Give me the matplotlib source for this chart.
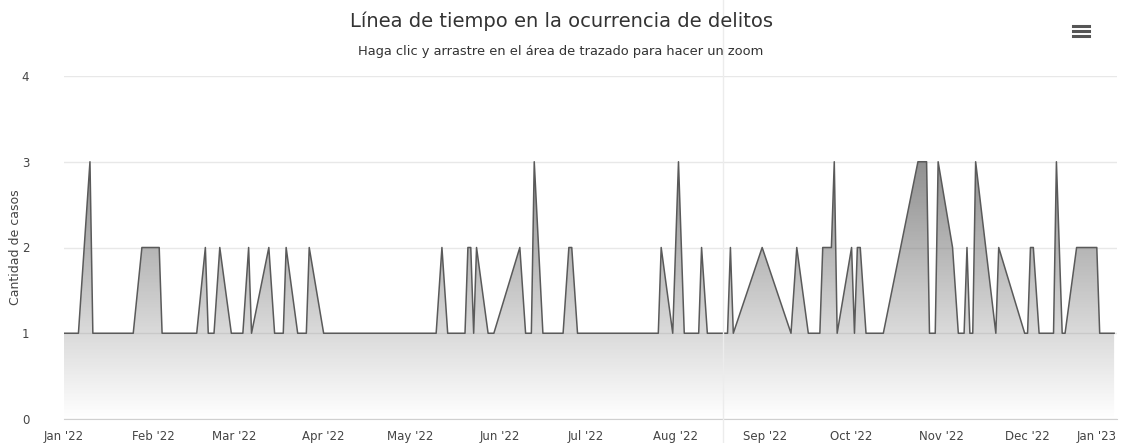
# Linea de tiempo de delitos - area chart estilo Highcharts
import numpy as np
import matplotlib
matplotlib.use('Agg')
import matplotlib.pyplot as plt
import matplotlib.dates as mdates
from matplotlib.lines import Line2D

# === Datos (fecha, cantidad de casos) ===
fechas = [
    "2022-01-01", "2022-01-06", "2022-01-10", "2022-01-11", "2022-01-25",
    "2022-01-28", "2022-02-03", "2022-02-04", "2022-02-16", "2022-02-19",
    "2022-02-20", "2022-02-22", "2022-02-24", "2022-02-28", "2022-03-04",
    "2022-03-06", "2022-03-07", "2022-03-13", "2022-03-15", "2022-03-18",
    "2022-03-19", "2022-03-23", "2022-03-26", "2022-03-27", "2022-04-01",
    "2022-05-10", "2022-05-12", "2022-05-14", "2022-05-20", "2022-05-21",
    "2022-05-22", "2022-05-23", "2022-05-24", "2022-05-28", "2022-05-30",
    "2022-06-08", "2022-06-10", "2022-06-12", "2022-06-13", "2022-06-16",
    "2022-06-23", "2022-06-25", "2022-06-26", "2022-06-28", "2022-07-26",
    "2022-07-27", "2022-07-31", "2022-08-02", "2022-08-04", "2022-08-09",
    "2022-08-10", "2022-08-12", "2022-08-19", "2022-08-20", "2022-08-21",
    "2022-08-31", "2022-09-10", "2022-09-12", "2022-09-16", "2022-09-20",
    "2022-09-21", "2022-09-24", "2022-09-25", "2022-09-26", "2022-10-01",
    "2022-10-02", "2022-10-03", "2022-10-04", "2022-10-06", "2022-10-12",
    "2022-10-24", "2022-10-27", "2022-10-28", "2022-10-30", "2022-10-31",
    "2022-11-05", "2022-11-07", "2022-11-09", "2022-11-10", "2022-11-11",
    "2022-11-12", "2022-11-13", "2022-11-20", "2022-11-21", "2022-11-30",
    "2022-12-01", "2022-12-02", "2022-12-03", "2022-12-05", "2022-12-10",
    "2022-12-11", "2022-12-13", "2022-12-14", "2022-12-18", "2022-12-25",
    "2022-12-26", "2022-12-31",
]
casos = [
    1, 1, 3, 1, 1,
    2, 2, 1, 1, 2,
    1, 1, 2, 1, 1,
    2, 1, 2, 1, 1,
    2, 1, 1, 2, 1,
    1, 2, 1, 1, 2,
    2, 1, 2, 1, 1,
    2, 1, 1, 3, 1,
    1, 2, 2, 1, 1,
    2, 1, 3, 1, 1,
    2, 1, 1, 2, 1,
    2, 1, 2, 1, 1,
    2, 2, 3, 1, 2,
    1, 2, 2, 1, 1,
    3, 3, 1, 1, 3,
    2, 1, 1, 2, 1,
    1, 3, 1, 2, 1,
    1, 2, 2, 1, 1,
    3, 1, 1, 2, 2,
    1, 1,
]

meses = ["2022-01-01", "2022-02-01", "2022-03-01", "2022-04-01", "2022-05-01",
         "2022-06-01", "2022-07-01", "2022-08-01", "2022-09-01", "2022-10-01",
         "2022-11-01", "2022-12-01", "2023-01-01"]
etiquetas_meses = ["Jan '22", "Feb '22", "Mar '22", "Apr '22", "May '22", "Jun '22",
                   "Jul '22", "Aug '22", "Sep '22", "Oct '22", "Nov '22", "Dec '22",
                   "Jan '23"]

titulo = "Línea de tiempo en la ocurrencia de delitos"
subtitulo = "Haga clic y arrastre en el área de trazado para hacer un zoom"

x = mdates.datestr2num(fechas)
y = np.array(casos, dtype=float)
xt = mdates.datestr2num(meses)

W, H = 1123, 443
fig = plt.figure(figsize=(W / 100, H / 100), dpi=100)
ax = fig.add_axes([64 / W, 1 - 419 / H, (1117 - 64) / W, (419 - 76) / H])

ax.set_xlim(xt[0], xt[-1])
ax.set_ylim(0, 4)

# area con degradado (oscuro arriba, transparente abajo)
poly = ax.fill_between(x, 0, y, color='none', lw=0)
grad = np.zeros((256, 1, 4))
grad[:, 0, :3] = 0.42
grad[:, 0, 3] = np.linspace(1.0, 0.0, 256)
img = ax.imshow(grad, extent=[xt[0], xt[-1], 0, 4], aspect='auto',
                origin='upper', zorder=1, interpolation='bilinear')
img.set_clip_path(poly.get_paths()[0], transform=ax.transData)
ax.plot(x, y, color='#5a5a5a', lw=1.1, zorder=3)

# grilla y ejes
ax.set_yticks([0, 1, 2, 3, 4])
ax.grid(axis='y', color='#e8e8e8', lw=1)
ax.set_axisbelow(True)
for s in ['top', 'right', 'left']:
    ax.spines[s].set_visible(False)
ax.spines['bottom'].set_color('#d0d0d0')
ax.tick_params(axis='both', length=0, labelsize=8.5, colors='#444444')
ax.tick_params(axis='y', pad=25)
ax.tick_params(axis='x', pad=8)
ax.set_xticks(xt)
ax.set_xticklabels(etiquetas_meses)
ax.get_xticklabels()[-1].set_horizontalalignment('right')
ax.set_ylabel("Cantidad de casos", fontsize=9, color='#444444')
ax.yaxis.set_label_coords(-0.040, 0.5)

fig.text(561 / W, 1 - 21 / H, titulo, ha='center', va='center',
         fontsize=14, color='#333333')
fig.text(561 / W, 1 - 51 / H, subtitulo, ha='center', va='center',
         fontsize=9.4, color='#333333')

# icono de menu
for yy in [26, 31, 36]:
    fig.add_artist(Line2D([1073 / W, 1089 / W], [1 - yy / H, 1 - yy / H],
                          color='#555555', lw=2.2))

# pliegue del escaneo
fig.add_artist(Line2D([723 / W, 723 / W], [0, 1], color='#ececec', lw=1))

fig.savefig('out.png', dpi=100)
